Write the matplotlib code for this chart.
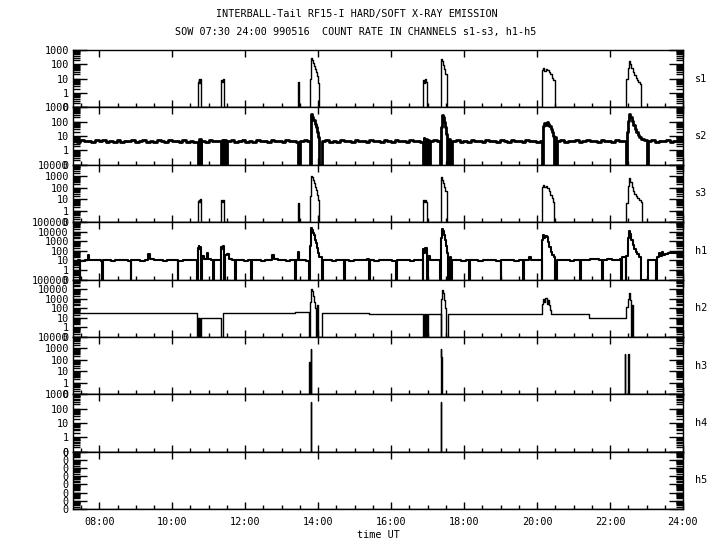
"""INTERBALL-Tail RF15-I hard/soft X-ray count rates, channels s1-s3 and h1-h5."""

import matplotlib
matplotlib.use("Agg")
import matplotlib.pyplot as plt
import matplotlib.transforms as mtransforms
import numpy as np
from matplotlib.ticker import FixedLocator, LogLocator, NullFormatter, MultipleLocator

plt.rcParams["font.family"] = ["DejaVu Sans Mono"]

# ---- data (time in hours UT, counts; 0 = no counts / dropout) ----
s1_t = [7.28, 10.70, 10.72, 10.74, 10.76, 10.78, 10.80, 11.34, 11.36, 11.38, 11.41,
        13.46, 13.48, 13.78, 13.80, 13.81, 13.83, 13.85, 13.88, 13.91, 13.93, 13.96,
        13.99, 14.01, 16.88, 16.90, 16.93, 16.96, 16.99, 17.36, 17.38, 17.40, 17.43,
        17.46, 17.49, 17.52, 17.54, 20.14, 20.17, 20.20, 20.24, 20.28, 20.32, 20.36,
        20.40, 20.44, 20.48, 22.45, 22.48, 22.51, 22.54, 22.58, 22.62, 22.66, 22.70,
        22.74, 22.78, 22.82, 22.86, 24.00]
s1_v = [0, 6, 9, 5, 10, 7, 0, 8, 6, 9, 0,
        6, 0, 10, 60, 260, 200, 130, 80, 50, 30, 15,
        5, 0, 8, 5, 9, 6, 0, 10, 220, 160, 90,
        50, 20, 5, 0, 40, 55, 35, 50, 40, 30, 20,
        12, 8, 0, 10, 60, 160, 110, 60, 30, 18, 12,
        8, 6, 4, 0, 0]

s2_t = [7.28, 7.38, 7.48, 7.58, 7.68, 7.78, 7.88, 7.98, 8.08, 8.18, 8.28, 8.38, 8.48,
        8.58, 8.68, 8.78, 8.88, 8.98, 9.08, 9.18, 9.28, 9.38, 9.48, 9.58, 9.68, 9.78,
        9.88, 9.98, 10.08, 10.18, 10.28, 10.38, 10.48, 10.58, 10.70, 10.72, 10.78,
        10.80, 10.90, 11.00, 11.10, 11.20, 11.34, 11.36, 11.40, 11.43, 11.47, 11.49,
        11.60, 11.70, 11.80, 11.90, 12.00, 12.10, 12.20, 12.30, 12.40, 12.50, 12.60,
        12.70, 12.80, 12.90, 13.00, 13.10, 13.20, 13.30, 13.40, 13.46, 13.51, 13.60,
        13.70, 13.77, 13.79, 13.81, 13.84, 13.87, 13.90, 13.93, 13.96, 13.99, 14.01,
        14.10, 14.20, 14.30, 14.40, 14.50, 14.60, 14.70, 14.80, 14.90, 15.00, 15.10,
        15.20, 15.30, 15.40, 15.50, 15.60, 15.70, 15.80, 15.90, 16.00, 16.10, 16.20,
        16.30, 16.40, 16.50, 16.60, 16.70, 16.80, 16.87, 16.89, 16.91, 16.95, 16.99,
        17.02, 17.04, 17.06, 17.15, 17.25, 17.35, 17.37, 17.39, 17.42, 17.45, 17.48,
        17.51, 17.53, 17.54, 17.58, 17.62, 17.67, 17.78, 17.88, 17.98, 18.08, 18.18,
        18.28, 18.38, 18.48, 18.58, 18.68, 18.78, 18.88, 18.98, 19.08, 19.18, 19.28,
        19.38, 19.48, 19.58, 19.68, 19.78, 19.88, 19.98, 20.08, 20.13, 20.15, 20.18,
        20.22, 20.26, 20.30, 20.34, 20.38, 20.42, 20.45, 20.47, 20.49, 20.51, 20.54,
        20.64, 20.74, 20.84, 20.94, 21.04, 21.14, 21.24, 21.34, 21.44, 21.54, 21.64,
        21.74, 21.84, 21.94, 22.04, 22.14, 22.24, 22.34, 22.44, 22.46, 22.49, 22.52,
        22.56, 22.60, 22.64, 22.68, 22.72, 22.76, 22.80, 22.85, 22.92, 23.00, 23.03,
        23.13, 23.23, 23.33, 23.43, 23.53, 23.63, 23.73, 23.83, 23.93, 24.00]
s2_v = [4.6, 3.9, 5.1, 4.2, 4.8, 3.7, 5.0, 4.3, 5.4, 3.9, 4.6, 4.1, 5.3,
        3.8, 4.9, 4.3, 5.1, 3.8, 4.4, 5.5, 4.0, 4.7, 3.6, 5.2, 4.5, 3.9,
        5.0, 4.2, 4.8, 3.7, 5.4, 4.1, 4.6, 3.9, 0, 6, 0,
        4.8, 4.0, 5.2, 4.3, 4.9, 0, 5.5, 0, 5, 0, 4.4,
        5.0, 3.8, 4.6, 5.2, 4.1, 4.7, 3.9, 5.3, 4.2, 4.8, 3.7,
        5.1, 4.4, 4.9, 3.8, 5.0, 4.3, 4.7, 4.0, 0, 4.6, 5.1,
        4.2, 0, 30, 320, 230, 130, 70, 40, 20, 9, 0,
        4.5, 5.2, 3.9, 4.8, 4.1, 5.3, 4.3, 4.9, 3.8, 5.0, 4.4,
        4.7, 4.0, 5.4, 4.2, 4.8, 3.9, 5.1, 4.5, 4.0, 5.2, 4.3,
        4.9, 3.8, 5.0, 4.4, 4.7, 4.1, 0, 7, 0, 6, 0,
        5, 0, 4.5, 5.1, 4.2, 0, 40, 300, 200, 90, 40,
        15, 8, 0, 6, 0, 4.6, 5.0, 4.1, 4.8, 3.9, 5.3,
        4.4, 4.9, 3.8, 5.1, 4.3, 4.7, 4.0, 5.2, 4.5, 3.9, 5.0,
        4.2, 4.8, 3.7, 5.3, 4.4, 4.9, 4.1, 4.6, 0, 50, 80,
        60, 90, 65, 50, 30, 18, 10, 0, 8, 0, 4.7,
        5.1, 4.0, 4.8, 4.2, 5.3, 3.9, 4.6, 5.0, 4.3, 4.9, 3.8,
        5.2, 4.4, 4.7, 4.0, 5.1, 4.3, 4.8, 0, 20, 120, 320,
        200, 110, 55, 30, 18, 12, 8, 6, 5, 0, 4.6,
        5.2, 4.1, 4.9, 4.3, 5.4, 4.0, 4.7, 4.4, 5.0, 4.5]

s3_t = [7.28, 10.70, 10.72, 10.74, 10.76, 10.78, 10.80, 11.34, 11.36, 11.38, 11.41,
        13.46, 13.48, 13.78, 13.80, 13.81, 13.83, 13.85, 13.88, 13.91, 13.93, 13.96,
        13.99, 14.01, 16.88, 16.90, 16.93, 16.96, 16.99, 17.36, 17.38, 17.40, 17.43,
        17.46, 17.49, 17.52, 17.54, 20.14, 20.17, 20.20, 20.24, 20.28, 20.32, 20.36,
        20.40, 20.44, 20.47, 22.45, 22.48, 22.52, 22.55, 22.59, 22.63, 22.67, 22.71,
        22.75, 22.79, 22.84, 22.87, 24.00]
s3_v = [0, 7, 9, 6, 10, 7, 0, 8, 6, 9, 0,
        5, 0, 20, 300, 1100, 800, 450, 250, 120, 60, 25,
        8, 0, 8, 6, 9, 6, 0, 20, 800, 500, 250,
        120, 50, 10, 0, 120, 170, 110, 140, 90, 50, 25,
        12, 6, 0, 5, 150, 650, 300, 120, 50, 30, 20,
        12, 8, 6, 0, 0]

h1_t = [7.28, 7.42, 7.46, 7.48, 7.62, 7.68, 7.71, 7.80, 7.92, 8.04, 8.07, 8.09, 8.20,
        8.32, 8.44, 8.56, 8.68, 8.80, 8.86, 8.88, 9.00, 9.12, 9.24, 9.34, 9.40, 9.50,
        9.62, 9.74, 9.86, 9.98, 10.10, 10.15, 10.17, 10.30, 10.42, 10.54, 10.64, 10.69,
        10.70, 10.72, 10.74, 10.76, 10.78, 10.80, 10.82, 10.88, 10.94, 10.98, 11.06,
        11.13, 11.15, 11.25, 11.33, 11.34, 11.37, 11.40, 11.42, 11.44, 11.50, 11.56,
        11.64, 11.73, 11.75, 11.86, 11.98, 12.08, 12.17, 12.19, 12.30, 12.42, 12.54,
        12.64, 12.74, 12.80, 12.90, 13.00, 13.12, 13.24, 13.37, 13.39, 13.46, 13.48,
        13.56, 13.66, 13.76, 13.78, 13.80, 13.81, 13.83, 13.85, 13.88, 13.91, 13.94,
        13.97, 14.00, 14.03, 14.10, 14.12, 14.25, 14.37, 14.50, 14.62, 14.71, 14.73,
        14.85, 14.97, 15.09, 15.21, 15.33, 15.40, 15.42, 15.54, 15.66, 15.78, 15.90,
        16.02, 16.13, 16.15, 16.27, 16.39, 16.51, 16.63, 16.75, 16.86, 16.88, 16.91,
        16.94, 16.97, 16.99, 17.02, 17.06, 17.16, 17.26, 17.35, 17.37, 17.39, 17.41,
        17.44, 17.47, 17.50, 17.53, 17.55, 17.60, 17.65, 17.67, 17.80, 17.92, 18.04,
        18.13, 18.15, 18.27, 18.39, 18.51, 18.63, 18.75, 18.87, 19.00, 19.02, 19.14,
        19.26, 19.38, 19.50, 19.61, 19.63, 19.72, 19.79, 19.83, 19.95, 20.07, 20.13,
        20.14, 20.17, 20.20, 20.23, 20.26, 20.30, 20.34, 20.38, 20.42, 20.46, 20.48,
        20.54, 20.66, 20.78, 20.90, 21.02, 21.14, 21.19, 21.21, 21.33, 21.45, 21.57,
        21.70, 21.79, 21.81, 21.93, 22.05, 22.17, 22.28, 22.31, 22.33, 22.40, 22.44,
        22.45, 22.48, 22.51, 22.54, 22.58, 22.62, 22.66, 22.70, 22.75, 22.80, 22.86,
        23.03, 23.27, 23.28, 23.33, 23.37, 23.42, 23.46, 23.52, 23.60, 23.70, 23.80,
        24.00]
h1_v = [9, 10, 0, 9, 11, 40, 12, 10, 11, 9, 0, 10, 12,
        9, 11, 10, 12, 9, 0, 10, 11, 9, 12, 50, 14, 10,
        11, 9, 12, 10, 11, 0, 9, 11, 10, 12, 11, 0,
        200, 350, 150, 280, 60, 0, 30, 15, 60, 15, 11,
        0, 10, 12, 0, 250, 150, 300, 0, 40, 50, 15,
        12, 0, 10, 11, 9, 12, 0, 10, 11, 9, 12,
        10, 40, 13, 10, 11, 9, 12, 0, 10, 80, 10,
        11, 9, 0, 300, 5000, 24000, 15000, 8000, 4000, 1500, 600,
        200, 60, 20, 0, 10, 11, 9, 12, 10, 0, 11,
        9, 12, 10, 11, 13, 0, 10, 9, 12, 10, 11,
        9, 0, 10, 12, 11, 9, 10, 12, 0, 150, 60,
        200, 80, 0, 30, 12, 10, 11, 0, 2000, 20000, 12000,
        5000, 1500, 300, 60, 0, 20, 0, 10, 11, 9, 12,
        0, 10, 11, 9, 12, 10, 11, 9, 0, 10, 12,
        11, 9, 10, 0, 11, 10, 22, 11, 10, 12, 0,
        1500, 4500, 2000, 3500, 2500, 800, 250, 80, 40, 20, 0,
        11, 10, 12, 9, 11, 10, 0, 11, 12, 14, 13,
        12, 0, 12, 13, 12, 11, 13, 0, 20, 25, 0,
        30, 2000, 12000, 6000, 1500, 400, 150, 80, 50, 25, 0,
        10, 0, 25, 60, 30, 80, 35, 50, 55, 60, 55,
        55]

h2_t = [7.28, 10.69, 10.70, 10.72, 10.74, 10.77, 10.80, 11.34, 11.38, 13.37, 13.76,
        13.78, 13.80, 13.82, 13.85, 13.88, 13.91, 13.94, 13.96, 13.99, 14.10, 15.40,
        16.87, 16.89, 16.92, 16.95, 16.99, 17.02, 17.36, 17.37, 17.39, 17.41, 17.44,
        17.47, 17.50, 17.56, 20.14, 20.17, 20.20, 20.23, 20.26, 20.29, 20.32, 20.35,
        20.38, 21.42, 22.45, 22.48, 22.52, 22.55, 22.58, 22.60, 22.64, 24.00]
h2_v = [30, 0, 10, 0, 10, 0, 10, 0, 30, 40, 0,
        500, 10000, 6000, 2000, 500, 100, 0, 200, 0, 35, 25,
        0, 25, 0, 25, 0, 25, 0, 1000, 8000, 4000, 800,
        100, 0, 23, 300, 1000, 400, 1100, 300, 700, 200, 60,
        23, 9, 150, 1000, 4000, 800, 0, 200, 0, 0]

h3_t = [7.28, 13.76, 13.77, 13.79, 13.80, 13.81, 13.82, 17.37, 17.38, 17.39, 17.40,
        22.41, 22.42, 22.50, 22.51, 24.00]
h3_v = [0, 70, 0, 830, 190, 0, 0, 800, 190, 0, 0,
        300, 0, 300, 0, 0]

h4_t = [7.28, 13.80, 13.81, 17.37, 17.38, 24.00]
h4_v = [0, 300, 0, 300, 0, 0]

h5_t = [7.28, 24.00]
h5_v = [0, 0]

channels = ["s1", "s2", "s3", "h1", "h2", "h3", "h4", "h5"]
series = [(s1_t, s1_v), (s2_t, s2_v), (s3_t, s3_v), (h1_t, h1_v),
          (h2_t, h2_v), (h3_t, h3_v), (h4_t, h4_v), (h5_t, h5_v)]
# decade exponents spanned by each panel's y axis (bottom shown as "0")
y_top_exp = [3, 3, 4, 5, 5, 4, 3, 6]
hour_ticks = [8, 10, 12, 14, 16, 18, 20, 22, 24]
hour_labels = ["08:00", "10:00", "12:00", "14:00", "16:00", "18:00",
               "20:00", "22:00", "24:00"]

# ---- layout ----
W, H = 720, 550
fig = plt.figure(figsize=(W / 100, H / 100), dpi=100)
left_px, right_px, top_px, bottom_px = 73, 683, 50, 509
panel_h = (bottom_px - top_px) / len(channels)
label_shift = mtransforms.ScaledTranslation(0, 2 / 100, fig.dpi_scale_trans)

fig.text(0.495, 1 - 14 / H, "INTERBALL-Tail RF15-I HARD/SOFT X-RAY EMISSION",
         ha="center", va="center", fontsize=7.3)
fig.text(0.494, 1 - 32 / H,
         "SOW 07:30 24:00 990516  COUNT RATE IN CHANNELS s1-s3, h1-h5",
         ha="center", va="center", fontsize=7.3)

for i, (name, (t, v), top_exp) in enumerate(zip(channels, series, y_top_exp)):
    y0 = 1 - (top_px + (i + 1) * panel_h) / H
    ax = fig.add_axes([left_px / W, y0, (right_px - left_px) / W, panel_h / H])
    ymin = 0.1
    vals = np.clip(np.asarray(v, dtype=float), ymin, None)
    lw = {"s2": 2.0, "h1": 1.5}.get(name, 1.0)
    ax.plot(t, vals, drawstyle="steps-post", color="black", lw=lw, clip_on=True)
    ax.set_yscale("log")
    ax.set_ylim(ymin, 10.0 ** top_exp)
    ax.set_xlim(7.28, 24.0)

    yt = [10.0 ** e for e in range(-1, top_exp + 1)]
    if name == "h5":
        ylab = ["0"] * len(yt)
    else:
        ylab = ["0"] + [str(int(10 ** e)) for e in range(0, top_exp + 1)]
    ax.yaxis.set_major_locator(FixedLocator(yt))
    ax.set_yticklabels(ylab)
    for lab in ax.get_yticklabels():
        lab.set_transform(lab.get_transform() + label_shift)
    ax.yaxis.set_minor_locator(LogLocator(base=10, subs=np.arange(2, 10), numticks=20))
    ax.yaxis.set_minor_formatter(NullFormatter())
    ax.tick_params(axis="y", which="major", direction="in", length=10, width=1.0,
                   left=True, right=True, labelsize=7.3, pad=3)
    ax.tick_params(axis="y", which="minor", direction="in", length=5, width=1.0,
                   left=True, right=True)

    ax.xaxis.set_major_locator(FixedLocator(hour_ticks))
    ax.xaxis.set_minor_locator(MultipleLocator(0.5))
    ax.tick_params(axis="x", which="major", direction="in", length=5, width=1.0,
                   top=True, bottom=True, labelsize=7.3, pad=6)
    ax.tick_params(axis="x", which="minor", direction="in", length=3, width=1.0,
                   top=False, bottom=True)
    if i == len(channels) - 1:
        ax.set_xticklabels(hour_labels)
        ax.set_xlabel("time UT", fontsize=7.3, labelpad=2)
    else:
        ax.set_xticklabels([])
    for sp in ax.spines.values():
        sp.set_linewidth(1.0)
    ax.text(1 + (701 - right_px) / (right_px - left_px), 0.5, name,
            transform=ax.transAxes, ha="center", va="center", fontsize=7.3)

fig.savefig("out.png", dpi=100)
